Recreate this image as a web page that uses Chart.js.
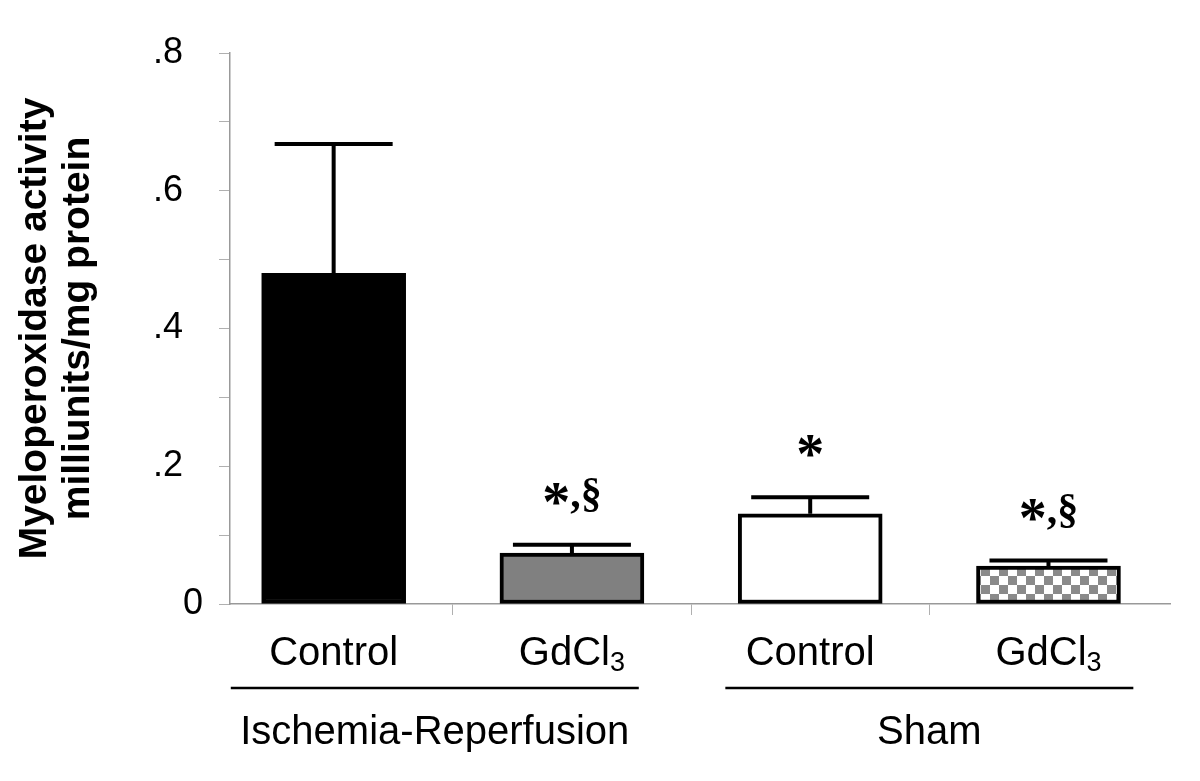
<!DOCTYPE html>
<html>
<head>
<meta charset="utf-8">
<script src="https://cdn.jsdelivr.net/npm/chart.js@4.4.1/dist/chart.umd.min.js"></script>
<style>
  html, body { margin: 0; padding: 0; background: #fff; }
  #wrap { width: 1200px; height: 781px; }
</style>
</head>
<body>
<div id="wrap"><canvas id="chart" width="1200" height="781"></canvas></div>
<script>
// Values (milliunits/mg protein)
const catBase = ['Control', 'GdCl', 'Control', 'GdCl'];
const catSub = ['', '3', '', '3'];
const groups = ['Ischemia-Reperfusion', 'Sham'];
const groupMembers = [[0, 1], [2, 3]];
const means = [0.48, 0.074, 0.131, 0.055];
const errors = [0.188, 0.012, 0.024, 0.008];
const marks = ['', '*,§', '*', '*,§'];
const yMax = 0.8;
const yStep = 0.1;

const SANS = '"Liberation Sans", Arial, sans-serif';
const SERIF = '"Liberation Serif", "Times New Roman", serif';

// checkerboard fill for the last bar
const makeChecks = () => {
  const c = document.createElement('canvas');
  c.width = 18; c.height = 18;
  const g = c.getContext('2d');
  g.fillStyle = '#ffffff';
  g.fillRect(0, 0, 18, 18);
  g.fillStyle = '#8a8a8a';
  g.fillRect(0, 0, 9, 9);
  g.fillRect(9, 9, 9, 9);
  return g.createPattern(c, 'repeat');
};

const fills = ['#000000', '#808080', '#ffffff', makeChecks()];

// draws "*" a bit larger than the ",§" that follows it
const drawMark = (ctx, text, cx, baseline) => {
  const star = text[0];
  const rest = text.slice(1);
  ctx.font = 'bold 56px ' + SERIF;
  const w1 = ctx.measureText(star).width;
  ctx.font = 'bold 42px ' + SERIF;
  const w2 = rest ? ctx.measureText(rest).width : 0;
  const start = cx - (w1 + w2) / 2;
  ctx.textAlign = 'left';
  ctx.font = 'bold 56px ' + SERIF;
  ctx.fillText(star, start, baseline + 14);
  if (rest) {
    ctx.font = 'bold 42px ' + SERIF;
    ctx.fillText(rest, start + w1, baseline);
  }
};

// error bars, significance marks and the two-level category labels
const decorations = {
  id: 'decorations',
  afterDatasetsDraw(chart) {
    const { ctx, scales: { y } } = chart;
    const bars = chart.getDatasetMeta(0).data;
    ctx.save();
    ctx.strokeStyle = '#000';
    ctx.fillStyle = '#000';
    ctx.lineWidth = 4;
    ctx.textBaseline = 'alphabetic';
    bars.forEach((bar, i) => {
      const top = y.getPixelForValue(means[i] + errors[i]);
      const base = y.getPixelForValue(means[i]);
      ctx.beginPath();
      ctx.moveTo(bar.x, base);
      ctx.lineTo(bar.x, top);
      ctx.moveTo(bar.x - 59, top);
      ctx.lineTo(bar.x + 59, top);
      ctx.stroke();
      if (marks[i]) drawMark(ctx, marks[i], bar.x, top - 38);
    });

    // category labels
    bars.forEach((bar, i) => {
      ctx.font = '40px ' + SANS;
      const w1 = ctx.measureText(catBase[i]).width;
      ctx.font = '27px ' + SANS;
      const w2 = catSub[i] ? ctx.measureText(catSub[i]).width : 0;
      const start = bar.x - (w1 + w2) / 2;
      ctx.textAlign = 'left';
      ctx.font = '40px ' + SANS;
      ctx.fillText(catBase[i], start, 665);
      if (catSub[i]) {
        ctx.font = '27px ' + SANS;
        ctx.fillText(catSub[i], start + w1, 671);
      }
    });

    // group underlines and names
    ctx.lineWidth = 2.5;
    groups.forEach((name, g) => {
      const [a, b] = groupMembers[g];
      const cx = (bars[a].x + bars[b].x) / 2 - (g === 0 ? 18 : 0);
      ctx.beginPath();
      ctx.moveTo(cx - 204, 688);
      ctx.lineTo(cx + 204, 688);
      ctx.stroke();
      ctx.font = '40px ' + SANS;
      ctx.textAlign = 'center';
      ctx.fillText(name, cx, 744);
    });
    ctx.restore();
  }
};

new Chart(document.getElementById('chart'), {
  type: 'bar',
  data: {
    datasets: [{
      data: means.map((m, i) => ({ x: i, y: m })),
      backgroundColor: fills,
      borderColor: '#000',
      borderWidth: 4,
      borderSkipped: false,
      barThickness: 144
    }]
  },
  options: {
    responsive: false,
    animation: false,
    layout: { padding: { top: 53, left: 0, right: 30, bottom: 0 } },
    plugins: { legend: { display: false }, tooltip: { enabled: false } },
    scales: {
      x: {
        type: 'linear',
        offset: false,
        min: -0.435,
        max: 3.51,
        afterBuildTicks: (scale) => {
          scale.ticks = [0.5, 1.5, 2.5].map(v => ({ value: v }));
        },
        afterFit: (scale) => { scale.height = 177; },
        ticks: { display: false },
        grid: { offset: false, drawOnChartArea: false, color: '#b0b0b0', tickLength: 11 },
        border: { color: '#999', width: 1.5 }
      },
      y: {
        min: 0,
        max: yMax,
        afterFit: (scale) => { scale.width = 230; },
        ticks: {
          stepSize: yStep,
          color: '#000',
          font: { size: 36, family: SANS },
          padding: 16,
          callback: (v) => {
            const k = Math.round(v * 10);
            if (k % 2 !== 0) return '';
            return k === 0 ? '0' : '.' + k + '  ';
          }
        },
        grid: { drawOnChartArea: false, color: '#b0b0b0', tickLength: 11 },
        border: { color: '#999', width: 1.5 },
        title: {
          display: true,
          text: ['Myeloperoxidase activity', 'milliunits/mg protein'],
          color: '#000',
          font: { size: 39, weight: 'bold', family: SANS, lineHeight: 1.1 },
          padding: { top: 14, bottom: 0 }
        }
      }
    }
  },
  plugins: [decorations]
});
</script>
</body>
</html>
